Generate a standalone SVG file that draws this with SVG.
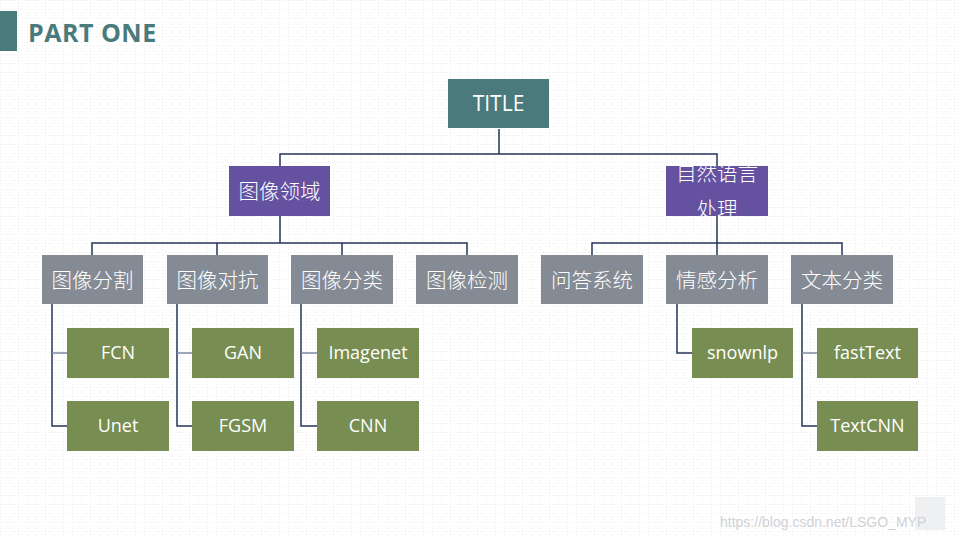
<svg xmlns="http://www.w3.org/2000/svg" width="960" height="540" viewBox="0 0 960 540">
<defs>
<pattern id="grid" width="9" height="9" patternUnits="userSpaceOnUse">
<path d="M0 0.5 H9 M0.5 0 V9" stroke="#ececec" stroke-width="1" stroke-dasharray="1 2" fill="none"/>
</pattern>
</defs>
<style>
.t{fill:#ffffff;font-family:"Open Sans","Noto Sans CJK SC",sans-serif;text-anchor:middle}
.cjk{font-family:"Noto Sans CJK SC",sans-serif;font-size:20.5px;font-weight:300}
.lat{font-size:18px}
.teal{fill:#4a7a7b}
.purple{fill:#6451a0}
.gray{fill:#848b95}
.green{fill:#778d52}
.ln{stroke:#26345a;stroke-width:1.5;fill:none}
.lnl{stroke:#7f8aa3;stroke-width:1.5;fill:none}
</style>
<rect width="960" height="540" fill="#ffffff"/>
<rect width="960" height="540" fill="url(#grid)"/>
<rect x="0" y="11" width="17" height="40" class="teal"/>
<text x="28" y="42" font-family="Open Sans, sans-serif" font-weight="bold" font-size="25" fill="#4a7a7b" letter-spacing="0.5">PART ONE</text>

<g id="connectors">
<path class="ln" d="M499 129 V154 M280 166 V154 H717 V166 M717 216 V243 M592 255 V243 H842 V255 M717 243 V255"/>
<path class="ln" d="M280 216 V243 M92 255 V243 H467 V255 M217 243 V255 M342 243 V255"/>
<path class="ln" d="M52 304 V426 H67 M177 304 V426 H192 M301 304 V426 H317"/>
<path class="lnl" d="M52 353 H67 M177 353 H192 M301 353 H317"/>
<path class="ln" d="M677 304 V353 H692 M802 304 V426 H817"/>
<path class="lnl" d="M802 353 H817"/>
</g>

<g id="title"><rect x="448" y="79" width="101" height="49" class="teal"/><text x="498.5" y="111" class="t" font-size="21">TITLE</text></g>
<g id="image-domain"><rect x="229" y="166" width="101" height="50" class="purple"/><text x="279.5" y="199" class="t cjk">图像领域</text></g>
<g id="nlp"><rect x="666" y="166" width="102" height="50" class="purple"/><text x="717" y="181" class="t cjk">自然语言</text><text x="717" y="217" class="t cjk">处理</text></g>

<g id="seg"><rect x="42" y="255" width="101" height="49" class="gray"/><text x="92.5" y="288" class="t cjk">图像分割</text></g>
<g id="adv"><rect x="167" y="255" width="101" height="49" class="gray"/><text x="217.5" y="288" class="t cjk">图像对抗</text></g>
<g id="cls"><rect x="291" y="255" width="102" height="49" class="gray"/><text x="342" y="288" class="t cjk">图像分类</text></g>
<g id="det"><rect x="416" y="255" width="102" height="49" class="gray"/><text x="467" y="288" class="t cjk">图像检测</text></g>
<g id="qa"><rect x="541" y="255" width="102" height="49" class="gray"/><text x="592" y="288" class="t cjk">问答系统</text></g>
<g id="sent"><rect x="666" y="255" width="102" height="49" class="gray"/><text x="717" y="288" class="t cjk">情感分析</text></g>
<g id="textcls"><rect x="791" y="255" width="102" height="49" class="gray"/><text x="842" y="288" class="t cjk">文本分类</text></g>

<g id="fcn"><rect x="67" y="328" width="102" height="50" class="green"/><text x="118" y="359" class="t lat">FCN</text></g>
<g id="unet"><rect x="67" y="401" width="102" height="50" class="green"/><text x="118" y="432" class="t lat">Unet</text></g>
<g id="gan"><rect x="192" y="328" width="102" height="50" class="green"/><text x="243" y="359" class="t lat">GAN</text></g>
<g id="fgsm"><rect x="192" y="401" width="102" height="50" class="green"/><text x="243" y="432" class="t lat">FGSM</text></g>
<g id="imagenet"><rect x="317" y="328" width="102" height="50" class="green"/><text x="368" y="359" class="t lat">Imagenet</text></g>
<g id="cnn"><rect x="317" y="401" width="102" height="50" class="green"/><text x="368" y="432" class="t lat">CNN</text></g>
<g id="snownlp"><rect x="692" y="328" width="101" height="50" class="green"/><text x="742.5" y="359" class="t lat">snownlp</text></g>
<g id="fasttext"><rect x="817" y="328" width="101" height="50" class="green"/><text x="867.5" y="359" class="t lat">fastText</text></g>
<g id="textcnn"><rect x="817" y="401" width="101" height="50" class="green"/><text x="867.5" y="432" class="t lat">TextCNN</text></g>

<rect x="915" y="497" width="30" height="33" fill="#eef0f2"/>
<text x="720" y="527" font-family="Liberation Sans, sans-serif" font-size="14" fill="#cfd2d6">https://blog.csdn.net/LSGO_MYP</text>
</svg>
